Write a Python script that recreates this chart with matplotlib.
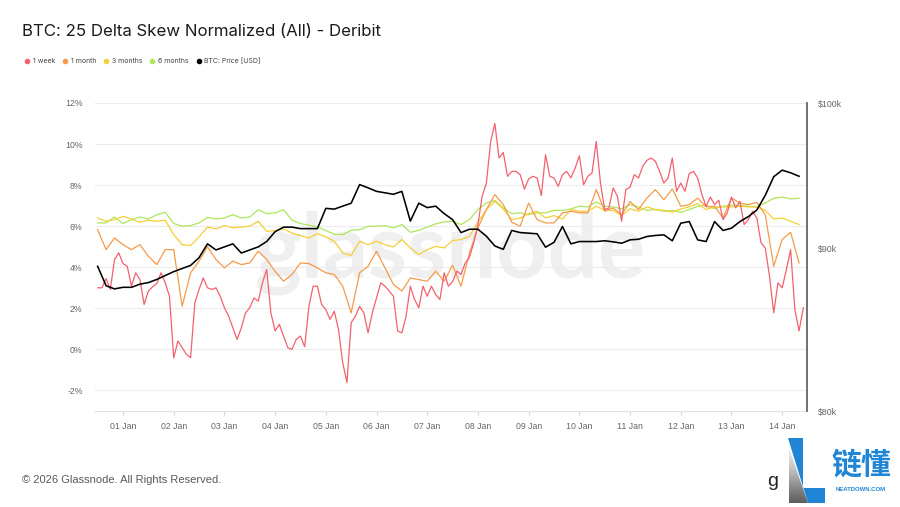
import numpy as np
import pandas as pd
import matplotlib.pyplot as plt
import matplotlib.dates as mdates
from matplotlib.ticker import FuncFormatter, NullLocator
from matplotlib.lines import Line2D
from matplotlib.patches import Polygon

plt.rcParams['font.family'] = ['Liberation Sans', 'DejaVu Sans']

# 1 week skew, 2-hourly from 31 Dec 12:00 (%)
skew_1w = [
    3.0, 3.0, 3.45, 2.92, 4.38, 4.7, 4.18, 4.05, 3.08, 3.73,
    3.4, 2.19, 2.84, 3.05, 3.21, 3.73, 3.24, 2.59, -0.41, 0.41,
    0.08, -0.24, -0.41, 2.27, 2.92, 3.48, 3.0, 2.92, 3.0, 2.59,
    2.03, 1.62, 1.05, 0.49, 1.05, 1.78, 2.03, 2.51, 2.35, 3.24,
    3.89, 1.78, 0.9, 1.22, 0.65, 0.08, 0.0, 0.49, 0.65, 0.13,
    2.1, 3.08, 3.08, 2.19, 1.94, 1.46, 1.86, 0.97, -0.65, -1.62,
    1.3, 1.62, 2.1, 1.78, 0.81, 1.78, 2.51, 3.24, 3.08, 2.84,
    2.59, 0.89, 0.81, 1.62, 3.08, 2.43, 2.03, 3.08, 2.59, 3.08,
    2.67, 2.43, 3.73, 3.08, 3.3, 3.81, 3.65, 4.21, 4.49, 5.19,
    6.08, 7.46, 8.1, 10.1, 11.0, 9.32, 9.59, 8.43, 8.67, 8.67,
    8.51, 7.81, 8.3, 8.43, 8.35, 7.49, 9.48, 8.43, 8.35, 7.94,
    8.51, 8.67, 8.35, 8.83, 9.43, 8.02, 8.43, 8.59, 10.13, 8.1,
    6.81, 6.89, 7.86, 7.46, 6.24, 7.78, 7.9, 8.51, 8.35, 8.91,
    9.21, 9.32, 9.16, 8.67, 8.1, 8.35, 9.32, 7.7, 8.1, 7.7,
    8.56, 8.67, 8.35, 7.54, 6.97, 7.42, 7.05, 7.26, 6.32, 6.65,
    7.42, 6.89, 7.21, 6.08, 6.32, 6.73, 6.4, 5.19, 4.94, 3.57,
    1.78, 3.24, 3.0, 3.89, 4.86, 1.94, 0.9, 2.03,
]

# 4-hourly series from 31 Dec 12:00
skew_1m = [
    5.83, 4.86, 5.43, 5.1, 4.86, 5.1, 4.54, 4.13, 4.86, 4.86, 2.1,
    3.73, 4.3, 5.0, 4.38, 3.97, 4.3, 4.13, 4.21, 4.78, 4.38, 3.8,
    3.32, 3.65, 4.21, 4.18, 3.97, 3.73, 3.65, 3.08, 1.78, 3.73, 4.05,
    4.78, 3.97, 3.16, 2.84, 3.48, 3.4, 3.32, 3.81, 3.32, 4.1,
    3.08, 4.7, 5.92, 6.81, 7.54, 7.05, 6.19, 6.0, 7.13, 6.32, 6.16,
    6.16, 6.65, 6.73, 6.65, 6.65, 7.78, 6.73, 6.89, 6.56, 7.2,
    6.81, 7.37, 7.78, 7.29, 7.81, 6.97, 7.05, 7.37, 6.94, 6.97,
    6.4, 7.37, 7.13, 7.05, 7.16, 6.56, 4.05, 5.35, 5.7, 4.21,
]
skew_3m = [
    6.4, 6.24, 6.32, 6.48, 6.35, 6.19, 6.29, 6.24, 6.29, 5.59, 5.1,
    5.06, 5.48, 5.96, 5.87, 6.03, 5.92, 5.96, 6.0, 6.24, 5.75, 5.78,
    5.87, 5.67, 5.54, 5.43, 5.64, 5.48, 5.27, 4.7, 4.57, 5.27, 5.1,
    5.27, 5.1, 4.99, 5.35, 4.94, 4.62, 4.86, 5.02, 4.94, 5.3,
    5.35, 5.51, 6.19, 6.81, 7.21, 6.84, 6.32, 6.4, 6.61, 6.73, 6.4,
    6.52, 6.35, 6.81, 6.73, 6.73, 6.97, 6.77, 6.77, 6.52, 6.85,
    6.73, 6.94, 6.81, 6.77, 6.68, 6.84, 6.94, 7.1, 6.81, 6.94,
    6.94, 6.94, 6.97, 6.94, 6.94, 6.77, 6.35, 6.4, 6.24, 6.08,
]
skew_6m = [
    6.16, 6.16, 6.45, 6.13, 6.32, 6.45, 6.35, 6.56, 6.68, 6.13, 6.0,
    6.03, 6.16, 6.43, 6.35, 6.4, 6.56, 6.4, 6.45, 6.8, 6.61, 6.65,
    6.8, 6.29, 6.13, 6.05, 5.96, 5.79, 5.61, 5.59, 5.8, 5.83, 6.0,
    6.0, 6.03, 5.92, 6.08, 5.7, 5.8, 5.96, 6.11, 6.21, 6.24,
    6.08, 6.32, 6.81, 7.13, 7.26, 6.89, 6.61, 6.65, 6.56, 6.65, 6.65,
    6.77, 6.77, 6.84, 6.97, 6.94, 7.18, 6.97, 6.94, 6.84, 7.05,
    6.94, 6.77, 6.81, 6.73, 6.77, 6.68, 6.81, 6.97, 7.02, 6.86,
    6.97, 7.03, 7.02, 6.97, 6.94, 7.13, 7.36, 7.42, 7.33, 7.36,
]
# BTC price in $k
btc_price = [
    88.84, 87.6, 87.4, 87.5, 87.5, 87.7, 87.8, 88.0, 88.25, 88.5, 88.7,
    88.9, 89.4, 90.3, 89.9, 90.1, 90.3, 89.7, 89.9, 90.1, 90.45, 91.1,
    91.4, 91.4, 91.3, 91.3, 91.3, 92.65, 92.6, 92.8, 93.0, 94.26, 94.04,
    93.8, 93.7, 93.6, 93.8, 91.8, 93.0, 92.7, 92.8, 92.3, 91.9,
    91.04, 91.26, 91.26, 90.8, 90.16, 89.94, 91.18, 91.04, 91.0, 90.96, 90.08,
    90.4, 91.44, 90.3, 90.45, 90.45, 90.45, 90.5, 90.43, 90.34, 90.56,
    90.6, 90.78, 90.85, 90.89, 90.5, 91.66, 91.77, 90.56, 90.45, 91.77,
    91.18, 91.33, 91.77, 92.1, 92.54, 93.53, 94.8, 95.25, 95.07, 94.83,
]

times_2h = pd.date_range('2025-12-31 12:00', periods=len(skew_1w), freq='2h')
times_4h = pd.date_range('2025-12-31 12:00', periods=len(skew_1m), freq='4h')

c_1w, c_1m, c_3m, c_6m = '#f2616f', '#f59a4a', '#f5cf35', '#aee65c'

fig = plt.figure(figsize=(9, 5.07), dpi=100)
ax = fig.add_axes([95/900, 1 - 411/507, 712/900, 308/507])
ax2 = ax.twinx()

# watermark
ax.text(0.499, 0.435, 'glassnode', transform=ax.transAxes, ha='center', va='baseline',
        fontsize=64, color='#efefef', family=['Lato', 'DejaVu Sans'], fontweight='bold', zorder=0)

ax.plot(times_4h, skew_6m, color=c_6m, lw=0.9, zorder=2)
ax.plot(times_4h, skew_3m, color=c_3m, lw=0.9, zorder=3)
ax.plot(times_4h, skew_1m, color=c_1m, lw=0.9, zorder=4)
ax.plot(times_2h, skew_1w, color=c_1w, lw=0.9, zorder=5)
ax2.plot(times_4h, np.array(btc_price) * 1000, color='black', lw=1.15)

ax.set_ylim(-3, 12)
ax.set_yticks(range(-2, 13, 2))
ax.yaxis.set_major_formatter(FuncFormatter(lambda v, p: f'{v:.0f}%'))
ax.grid(axis='y', color='#ececec', lw=0.8)
ax.set_axisbelow(True)

ax.set_xlim(pd.Timestamp('2025-12-31 10:45'), pd.Timestamp('2026-01-14 11:45'))
ax.xaxis.set_major_locator(mdates.DayLocator())
ax.xaxis.set_major_formatter(mdates.DateFormatter('%d %b'))

for s in ['top', 'left', 'right']:
    ax.spines[s].set_visible(False)
ax.spines['bottom'].set_color('#e2e2e2')
ax.tick_params(axis='y', length=0, labelsize=6.3, labelcolor='#666666', pad=9)
ax.tick_params(axis='x', length=3, color='#d8d8d8', labelsize=6.3, labelcolor='#666666', pad=5)

ax2.set_yscale('log')
ax2.set_ylim(80000, 100000)
ax2.set_yticks([80000, 90000, 100000])
ax2.set_yticklabels([r'\$80k', r'\$90k', r'\$100k'])
ax2.yaxis.set_minor_locator(NullLocator())
for s in ['top', 'left', 'bottom']:
    ax2.spines[s].set_visible(False)
ax2.spines['right'].set_color('#666666')
ax2.spines['right'].set_linewidth(1.3)
ax2.tick_params(axis='y', length=0, labelsize=6.3, labelcolor='#666666', pad=8)

fig.text(22/900, 1 - 31/507, 'BTC: 25 Delta Skew Normalized (All) - Deribit', fontsize=12.1,
         family=['Inter', 'DejaVu Sans'], color='#1b1b1b', va='center')

handles = [Line2D([], [], marker='o', ls='', ms=3, color=c) for c in [c_1w, c_1m, c_3m, c_6m, 'black']]
labels = ['1 week', '1 month', '3 months', '6 months', 'BTC: Price [USD]']
fig.legend(handles, labels, loc='center left', bbox_to_anchor=(24/900, 1 - 61/507), ncol=5,
           frameon=False, handletextpad=0.25, columnspacing=1.0, handlelength=1.0,
           borderpad=0, borderaxespad=0, labelcolor='#444444',
           prop={'family': ['Inter', 'DejaVu Sans'], 'size': 5})

fig.text(22/900, 1 - 480/507, '\u00a9 2026 Glassnode. All Rights Reserved.', fontsize=8,
         color='#5a5a5a', va='center')

# logo bottom right
lax = fig.add_axes([760/900, 0, 140/900, 77/507])
lax.axis('off')
lax.text(773, 482, 'g', fontsize=14, color='#222222', ha='center', va='center')
blue = '#2085d5'
lax.add_patch(Polygon([(788, 438), (803, 438), (803, 488), (825, 488), (825, 503), (808, 503)],
                      closed=True, color=blue, lw=0))
tri = Polygon([(789, 448), (789, 503), (808, 503)], closed=True, facecolor='none', lw=0)
lax.add_patch(tri)
grad = np.linspace(0, 1, 100).reshape(-1, 1)
im = lax.imshow(grad, cmap='Greys', vmin=-0.2, vmax=1.5, extent=(788, 809, 503, 446), aspect='auto')
im.set_clip_path(tri)
lax.set_xlim(760, 900)
lax.set_ylim(507, 430)
lax.text(861, 465, '链懂', fontsize=21.5, color=blue, ha='center', va='center',
         family=['Noto Sans CJK SC', 'DejaVu Sans'], fontweight='bold')
lax.text(861, 490, 'NEATDOWN.COM', fontsize=4.3, color=blue, ha='center', va='center', fontweight='bold')

fig.savefig('out.png', dpi=100)
